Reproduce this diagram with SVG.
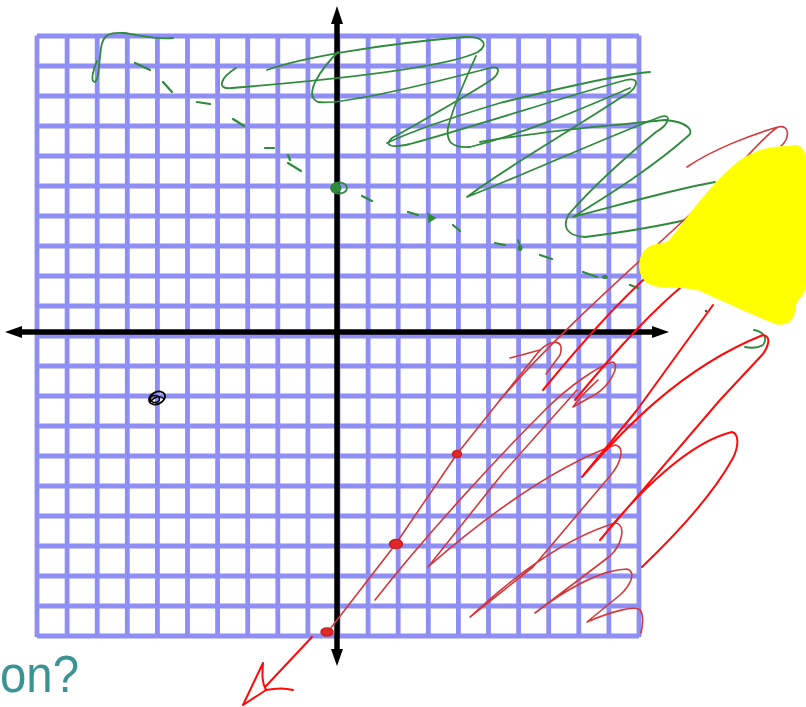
<svg xmlns="http://www.w3.org/2000/svg" width="806" height="707" viewBox="0 0 806 707">
<style>
.grid{fill:none;stroke:#8e8ef4;stroke-width:4.8}
.axis{stroke:#000;stroke-width:5.5;fill:none}
.head{fill:#000}
.g{fill:none;stroke:#2f8a3c;stroke-width:1.8;stroke-linecap:round;stroke-linejoin:round}
.gd{fill:none;stroke:#2f8a3c;stroke-width:2.2;stroke-linecap:round}
.rd{fill:none;stroke:#d4383a;stroke-width:1.6;stroke-linecap:round;stroke-linejoin:round}
.rb{fill:none;stroke:#ff0a0a;stroke-width:2;stroke-linecap:round;stroke-linejoin:round}
.dot{fill:#e02828;stroke:#c81e1e;stroke-width:1.5}
</style>
<rect width="806" height="707" fill="#fff"/>
<g id="grid">
<path class="grid" d="M37 35.5V637 M67.1 35.5V637 M97.2 35.5V637 M127.3 35.5V637 M157.4 35.5V637 M187.5 35.5V637 M217.6 35.5V637 M247.7 35.5V637 M277.8 35.5V637 M307.9 35.5V637 M338 35.5V637 M368.1 35.5V637 M398.2 35.5V637 M428.3 35.5V637 M458.4 35.5V637 M488.5 35.5V637 M518.6 35.5V637 M548.7 35.5V637 M578.8 35.5V637 M608.9 35.5V637 M639 35.5V637
M37 36H639 M37 66H639 M37 96H639 M37 126H639 M37 156H639 M37 186H639 M37 216H639 M37 246H639 M37 276H639 M37 306H639 M37 336H639 M37 366H639 M37 396H639 M37 426H639 M37 456H639 M37 486H639 M37 516H639 M37 546H639 M37 576H639 M37 606H639 M37 636H639"/>
</g>
<g id="axes">
<path class="axis" d="M337 22V652 M20 332H655"/>
<polygon class="head" points="337,6 331,24 343,24"/>
<polygon class="head" points="337,666 331,649 343,649"/>
<polygon class="head" points="5,332 22,326 22,338"/>
<polygon class="head" points="669,332 652,326 652,338"/>
</g>
<g id="green-scribble">
<path class="g" stroke="#1e9a2a" stroke-width="2" d="M97 61 C93 70 90 82 95 82 C99 80 99 62 101 48 C103 34 110 32 124 33 C140 35 155 40 173 38"/>
<path class="g" d="M267 70 C300 58 380 44 465 37 C482 36 490 44 478 52 C445 68 330 80 232 88 C216 90 220 78 236 68"/>
<path class="g" d="M338 52 C322 68 302 95 318 102 C338 106 420 86 490 68 C502 65 500 75 488 82 C460 100 420 122 392 138 C383 146 392 148 410 144 C470 128 560 98 626 80 C642 76 638 90 620 98 C575 128 505 168 467 197 C530 172 600 140 660 117 C672 113 670 124 656 132 C622 160 590 190 569 214 C562 226 566 236 585 237 C625 232 660 226 690 219"/>
<path class="g" d="M476 56 C465 80 452 110 448 128 C446 142 452 148 470 147 C530 132 590 105 630 88"/>
<path class="g" d="M387 143 C410 132 450 118 500 103 C560 88 620 75 650 72"/>
<path class="g" d="M480 142 C560 128 630 124 665 120 C690 122 694 132 688 136 C650 170 600 200 573 217 C620 205 670 190 715 182"/>
<path class="gd" d="M135 63L150 70 M163 82L172 92 M197 102L210 104 M233 119L244 126 M265 148L274 148 M288 155L290 160 M288 163L301 171 M362 196L372 201 M408 212L418 215 M453 225L460 231 M495 243L505 245 M540 255L552 259 M583 272L597 277 M630 285L638 288"/>
<ellipse cx="336" cy="188" rx="5.5" ry="5" fill="#2f8a3c"/>
<ellipse cx="339" cy="188" rx="8" ry="5.5" class="g"/>
<path d="M428 214 L435 218 L429 222 Z" fill="#2f8a3c" stroke="#2f8a3c" stroke-width="1.5"/>
<ellipse cx="520" cy="248" rx="2.5" ry="3" fill="#2f8a3c"/>
<path class="g" d="M518 240 L520 246"/>
<ellipse cx="605" cy="277" rx="3" ry="2" fill="#2f8a3c"/>
<ellipse cx="706" cy="311" rx="1.2" ry="1.2" fill="#2f5a3c"/>
<path class="g" d="M754 330 C764 332 768 338 763 345 C758 348 750 348 745 347"/>
</g>
<g id="red-scribble">
<path class="rd" d="M327 633 L395 545 L457 454 L540 350"/>
<path class="rd" d="M510 358 L540 350 M540 350 C552 339 565 339 560 355 L546 374"/>
<path class="rd" d="M500 400 C560 330 640 262 700 205 C730 178 760 138 778 127 C790 124 790 138 781 146 M778 127 C750 135 712 150 687 167"/>
<path class="rd" d="M375 600 C430 530 500 455 545 410 C570 385 600 365 613 362 C620 366 610 385 596 394 L573 407 C580 396 590 388 598 380"/>
<path class="rd" d="M577 390 L503 473 L428 567 C470 530 545 470 615 445 C625 446 622 462 610 476 L533 567 L470 617 C510 580 560 540 615 523 C627 524 622 545 610 556 L535 613 C565 590 600 570 627 569 C637 572 630 586 620 595 L587 622 C610 612 635 605 640 610 C645 617 642 628 641 633"/>
<path class="rb" d="M543 390 C580 345 620 300 652 272"/>
<path class="rb" d="M575 400 C600 370 640 322 680 288"/>
<path class="rb" d="M713 305 L637 410 L582 477 C620 433 680 368 763 335 C772 336 768 348 762 355 L720 400 L600 540 C640 490 690 442 732 432 C740 434 738 448 733 458 C710 500 665 545 642 567"/>
<path class="rb" d="M312 637 L266 686 M243 705 L263 663 M263 663 C262 675 262 683 266 690 C276 688 286 688 293 690 M243 705 L266 690"/>
<ellipse class="dot" cx="327" cy="632" rx="6" ry="4"/>
<ellipse class="dot" cx="396" cy="544" rx="6.5" ry="4.5"/>
<ellipse class="dot" cx="457" cy="454" rx="4.5" ry="3.5"/>
</g>
<g id="yellow-blob">
<path fill="#ffff00" d="M790 146 C800 142 806 150 806 160 L806 285 C806 295 796 300 795 308 C796 320 786 327 775 324 C755 316 720 300 700 291 C680 285 660 291 647 283 C635 273 637 253 650 246 C660 242 665 245 670 239 C690 214 710 184 740 160 C755 150 770 146 790 146 Z"/>
</g>
<g id="black-mark">
<ellipse cx="157" cy="398" rx="8.5" ry="6" transform="rotate(-25 157 398)" fill="none" stroke="#000" stroke-width="1.8"/>
<ellipse cx="155" cy="399" rx="4.5" ry="3.5" fill="none" stroke="#000" stroke-width="1.5"/>
<path d="M150 402 C155 396 161 395 164 399" fill="none" stroke="#000" stroke-width="1.4"/>
</g>
<text x="0" y="692" font-family="Liberation Sans, Arial, sans-serif" font-size="52" fill="#3a9494" textLength="79" lengthAdjust="spacingAndGlyphs">on?</text>
</svg>
